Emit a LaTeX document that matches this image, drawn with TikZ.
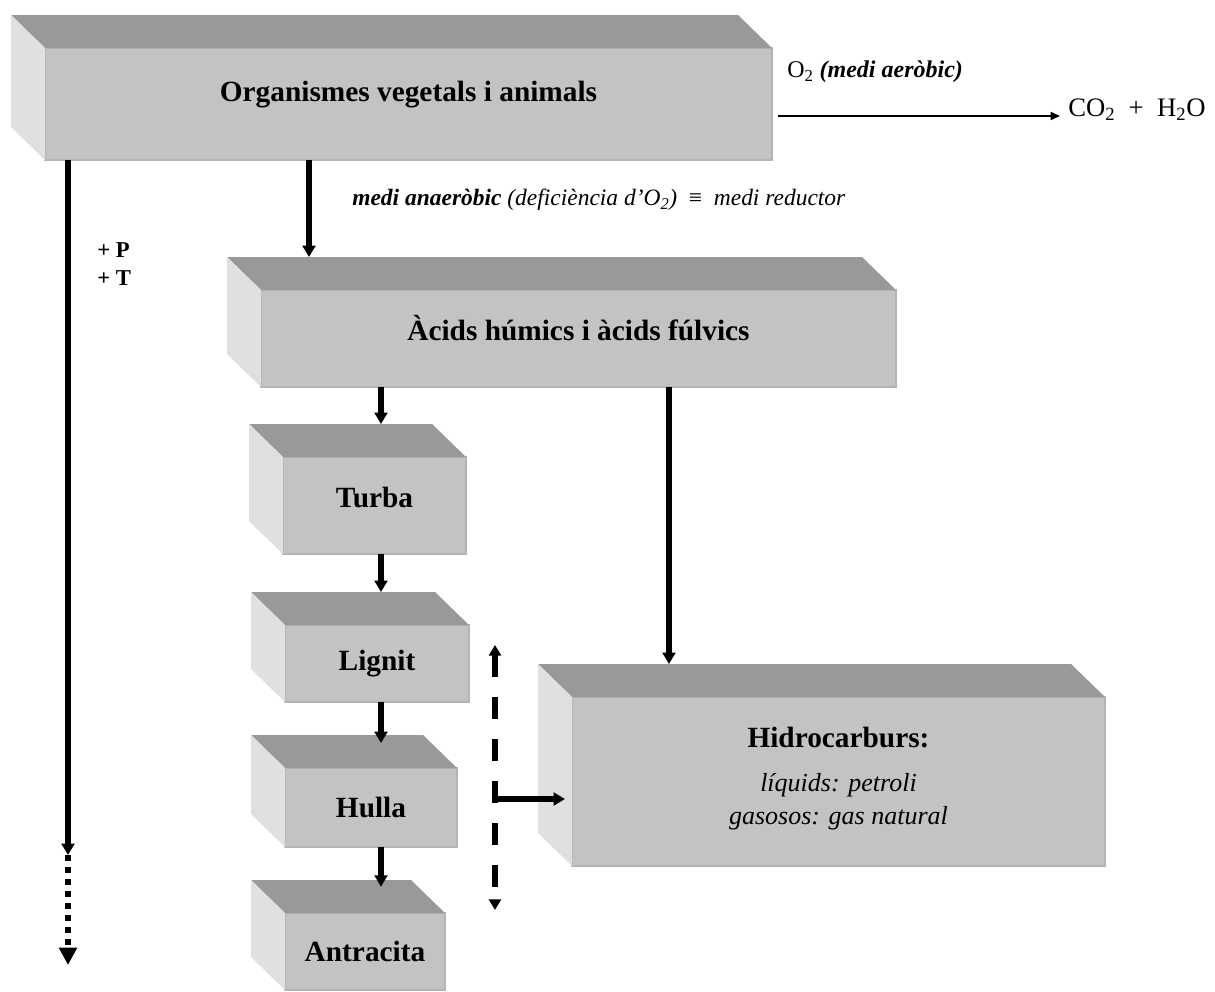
\documentclass[tikz,border=0pt]{standalone}
\usepackage{fontspec}
\setmainfont{Liberation Serif}
\usetikzlibrary{arrows.meta,fit,calc}
\definecolor{topc}{RGB}{153,153,153}
\definecolor{frontc}{RGB}{195,195,195}
\definecolor{leftc}{RGB}{224,224,224}
\definecolor{edgec}{RGB}{180,180,180}
\newcommand\cuboid[5]{%
  \node[frontface, fit={(#2,#3) (#4,#5)}] (#1) {};
  \coordinate (#1-bk) at (#2-34,#3-33);
  \fill[topface] (#1.north west) -- (#1.north east) -- ++(-34,-33) -- (#1-bk) -- cycle;
  \fill[leftface] (#1.north west) -- (#1-bk) -- ++(0,#5-#3) -- (#1.south west) -- cycle;
}
\begin{document}
\begin{tikzpicture}[x=0.75pt,y=-0.75pt,
  frontface/.style={fill=frontc, draw=edgec, line width=1pt, inner sep=0pt, outer sep=0pt},
  topface/.style={fill=topc},
  leftface/.style={fill=leftc},
  big/.style={font=\fontsize{22}{25}\selectfont\bfseries, inner sep=0pt},
  plain/.style={font=\fontsize{20}{23}\selectfont, inner sep=0pt},
  lab/.style={font=\fontsize{18}{21}\selectfont, inner sep=0pt},
  thickarr/.style={line width=4pt, -{Triangle[width=9.5pt,length=8.5pt]}},
  thinarr/.style={line width=1.2pt, -{Triangle[width=6pt,length=7pt]}},
  dotarr/.style={line width=4pt, dash pattern=on 4.5pt off 4.5pt, -{Triangle[width=13pt,length=13pt]}},
  dasharr/.style={line width=4pt, dash pattern=on 16.5pt off 15pt, {Triangle[width=9pt,length=8pt]}-{Triangle[width=9pt,length=8pt]}},
]
\useasboundingbox (0,0) rectangle (1215,992);

% boxes
\cuboid{org}{45}{48}{772}{160}
\cuboid{acids}{261}{290}{896}{387}
\cuboid{turba}{283}{457}{466}{554}
\cuboid{lignit}{285}{625}{469}{702}
\cuboid{hulla}{285}{768}{457}{847}
\cuboid{antra}{285}{913}{445}{990}
\cuboid{hidro}{572}{697}{1105}{866}

% box texts
\node[big] (orgT) at ($(org.center)+(0,-9)$) {Organismes vegetals i animals};
\node[big] (acidsT) at ($(acids.center)+(0,-10)$) {Àcids húmics i àcids fúlvics};
\node[big] (turbaT) at ($(turba.center)+(0,-8)$) {Turba};
\node[big] (lignitT) at (lignit.center) {Lignit};
\node[big] (hullaT) at (hulla.center) {Hulla};
\node[big] (antraT) at (antra.center) {Antracita};
\node[big, align=center] (hidroT) at ($(hidro.center)+(0,-3)$)
  {Hidrocarburs:\\[8pt]{\fontsize{19.5}{23}\selectfont\mdseries\itshape líquids: petroli}\\{\fontsize{19.5}{23}\selectfont\mdseries\itshape gasosos: gas natural}};

% labels
\node[lab, anchor=west] (aerL) at (787,72) {O\textsubscript{2} \textbf{\textit{(medi aeròbic)}}};
\node[plain, anchor=west] (prod) at (1068,110)
  {CO\textsubscript{2}\enspace+\enspace H\textsubscript{2}O};
\node[lab, font=\fontsize{17.6}{21}\selectfont, anchor=west] (anaL) at (352,200)
  {\textbf{\textit{medi anaeròbic}} \textit{(deficiència d’O\textsubscript{2})}\enspace≡\enspace\textit{medi reductor}};
\node[lab, font=\fontsize{17}{21}\selectfont\bfseries, anchor=west, align=left] (pt) at (97,264) {+ P\\+ T};

% helper coordinates
\coordinate (xa) at (309,0);
\coordinate (xc) at (381,0);
\coordinate (xh) at (669,0);
\coordinate (aer) at (1060,116);
\coordinate (xl) at (68,855);
\coordinate (xlend) at (68,965);
\coordinate (dtop) at (495,645);
\coordinate (dbot) at (495,910);
\coordinate (dj) at (495,799);

% connectors
\draw[thinarr, shorten <=4.5pt] (org.east |- aer) -- (aer);
\draw[thickarr] (org.south -| xa) -- (acids-bk -| xa);
\draw[thickarr] (org.south -| xl) -- (xl);
\draw[dotarr] (xl) -- (xlend);
\draw[thickarr] (acids.south -| xc) -- (turba-bk -| xc);
\draw[thickarr] (acids.south -| xh) -- (hidro-bk -| xh);
\draw[thickarr] (turba.south -| xc) -- (lignit-bk -| xc);
\draw[thickarr, shorten >=-6pt] (lignit.south -| xc) -- (hulla-bk -| xc);
\draw[thickarr, shorten >=-5pt] (hulla.south -| xc) -- (antra-bk -| xc);
\draw[dasharr] (dtop) -- (dbot);
\draw[thickarr, shorten >=5.25pt] (dj) -- (hidro.west |- dj);
\end{tikzpicture}
\end{document}
